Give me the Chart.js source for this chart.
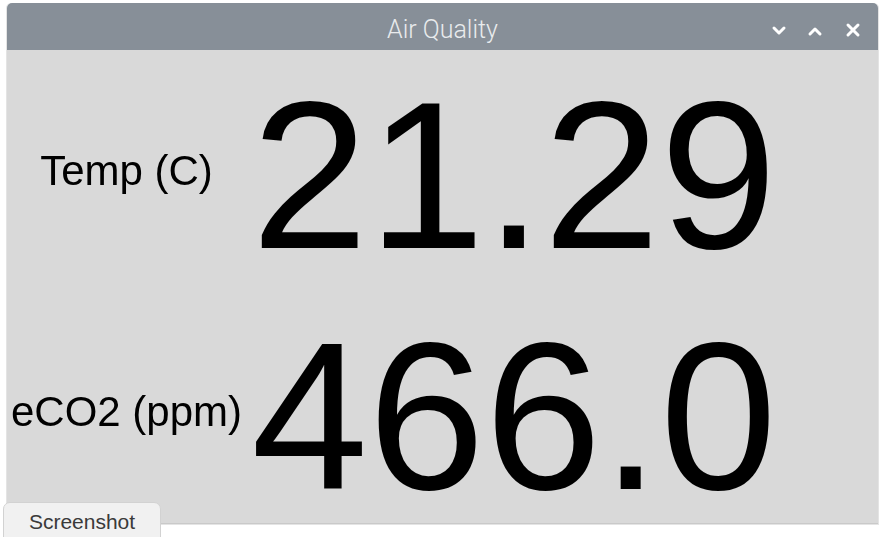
<!DOCTYPE html>
<html>
<head>
<meta charset="utf-8">
<script src="https://cdn.jsdelivr.net/npm/chart.js@4"></script>
<style>
  html, body { margin: 0; padding: 0; background: #ffffff; width: 879px; height: 537px; overflow: hidden; }
  #win { position: absolute; left: 6px; top: 3px; width: 871px; height: 521px; border: 1px solid #e4e4e4; border-top: none; border-radius: 5px 5px 0 0; }
  #titlebar { position: absolute; left: 0; top: 0; width: 871px; height: 47px; background: #878f98; border-radius: 5px 5px 0 0; }
  #title { position: absolute; left: 0; top: 0; width: 871px; line-height: 54px; text-align: center; font-family: Roboto, sans-serif; font-weight: 300; font-size: 25px; color: #e9ebed; }
  #btns { position: absolute; right: 17px; top: 19px; }
  #bodyArea { position: absolute; left: 0; top: 47px; width: 871px; height: 473px; background: #d9d9d9; border-bottom: 1px solid #c9c9c9; }
  #shot { position: absolute; left: 3px; top: 502px; width: 156px; height: 40px; background: #f1f1f1; border: 1px solid #d2d2d2; border-radius: 7px 7px 0 0; font-family: "Liberation Sans", Arial, sans-serif; font-size: 21px; color: #3a3a3a; text-align: center; line-height: 38px; }
</style>
</head>
<body>
<div id="win">
  <div id="titlebar">
    <div id="title">Air Quality</div>
    <svg id="btns" width="90" height="20" viewBox="0 0 90 20">
      <polyline points="3,6 8,11 13,6" fill="none" stroke="#ffffff" stroke-width="3" stroke-linecap="round" stroke-linejoin="round"/>
      <polyline points="39,12 44,7 49,12" fill="none" stroke="#ffffff" stroke-width="3" stroke-linecap="round" stroke-linejoin="round"/>
      <line x1="77" y1="3" x2="87" y2="13" stroke="#ffffff" stroke-width="3" stroke-linecap="round"/>
      <line x1="87" y1="3" x2="77" y2="13" stroke="#ffffff" stroke-width="3" stroke-linecap="round"/>
    </svg>
  </div>
  <div id="bodyArea">
    <canvas id="airQuality" width="871" height="473"></canvas>
  </div>
</div>
<div id="shot">Screenshot</div>
<script>
const windowTitle = 'Air Quality';
const categories = ['Temp (C)', 'eCO2 (ppm)'];
const readings = [21.29, 466.0];
const decimals = [2, 1];

const readingText = {
    id: 'readingText',
    afterDatasetsDraw(chart) {
        const ctx = chart.ctx;
        const meta = chart.getDatasetMeta(0);
        const area = chart.chartArea;
        const cx = (area.left + area.right) / 2;
        ctx.save();
        ctx.fillStyle = '#000000';
        ctx.font = '210px "Liberation Sans", Arial, sans-serif';
        ctx.textAlign = 'center';
        ctx.textBaseline = 'alphabetic';
        meta.data.forEach((el, i) => {
            ctx.fillText(readings[i].toFixed(decimals[i]), cx, el.y + 75);
        });
        ctx.restore();
    }
};

const ctx = document.getElementById('airQuality').getContext('2d');
new Chart(ctx, {
    type: 'bar',
    data: {
        labels: categories,
        datasets: [{
            label: windowTitle,
            data: readings,
            backgroundColor: 'rgba(0,0,0,0)',
            borderWidth: 0
        }]
    },
    options: {
        indexAxis: 'y',
        responsive: false,
        animation: false,
        layout: { padding: { top: 123, bottom: 109, left: 0, right: 92 } },
        plugins: { legend: { display: false }, tooltip: { enabled: false } },
        scales: {
            x: { display: false, min: 0, max: 500 },
            y: {
                offset: false,
                border: { display: false },
                grid: { display: false, drawTicks: false },
                ticks: {
                    crossAlign: 'center',
                    padding: 0,
                    color: '#000000',
                    font: { family: '"Liberation Sans", Arial, sans-serif', size: 42 }
                },
                afterFit(scale) { scale.width = 235; }
            }
        }
    },
    plugins: [readingText]
});
</script>
</body>
</html>
